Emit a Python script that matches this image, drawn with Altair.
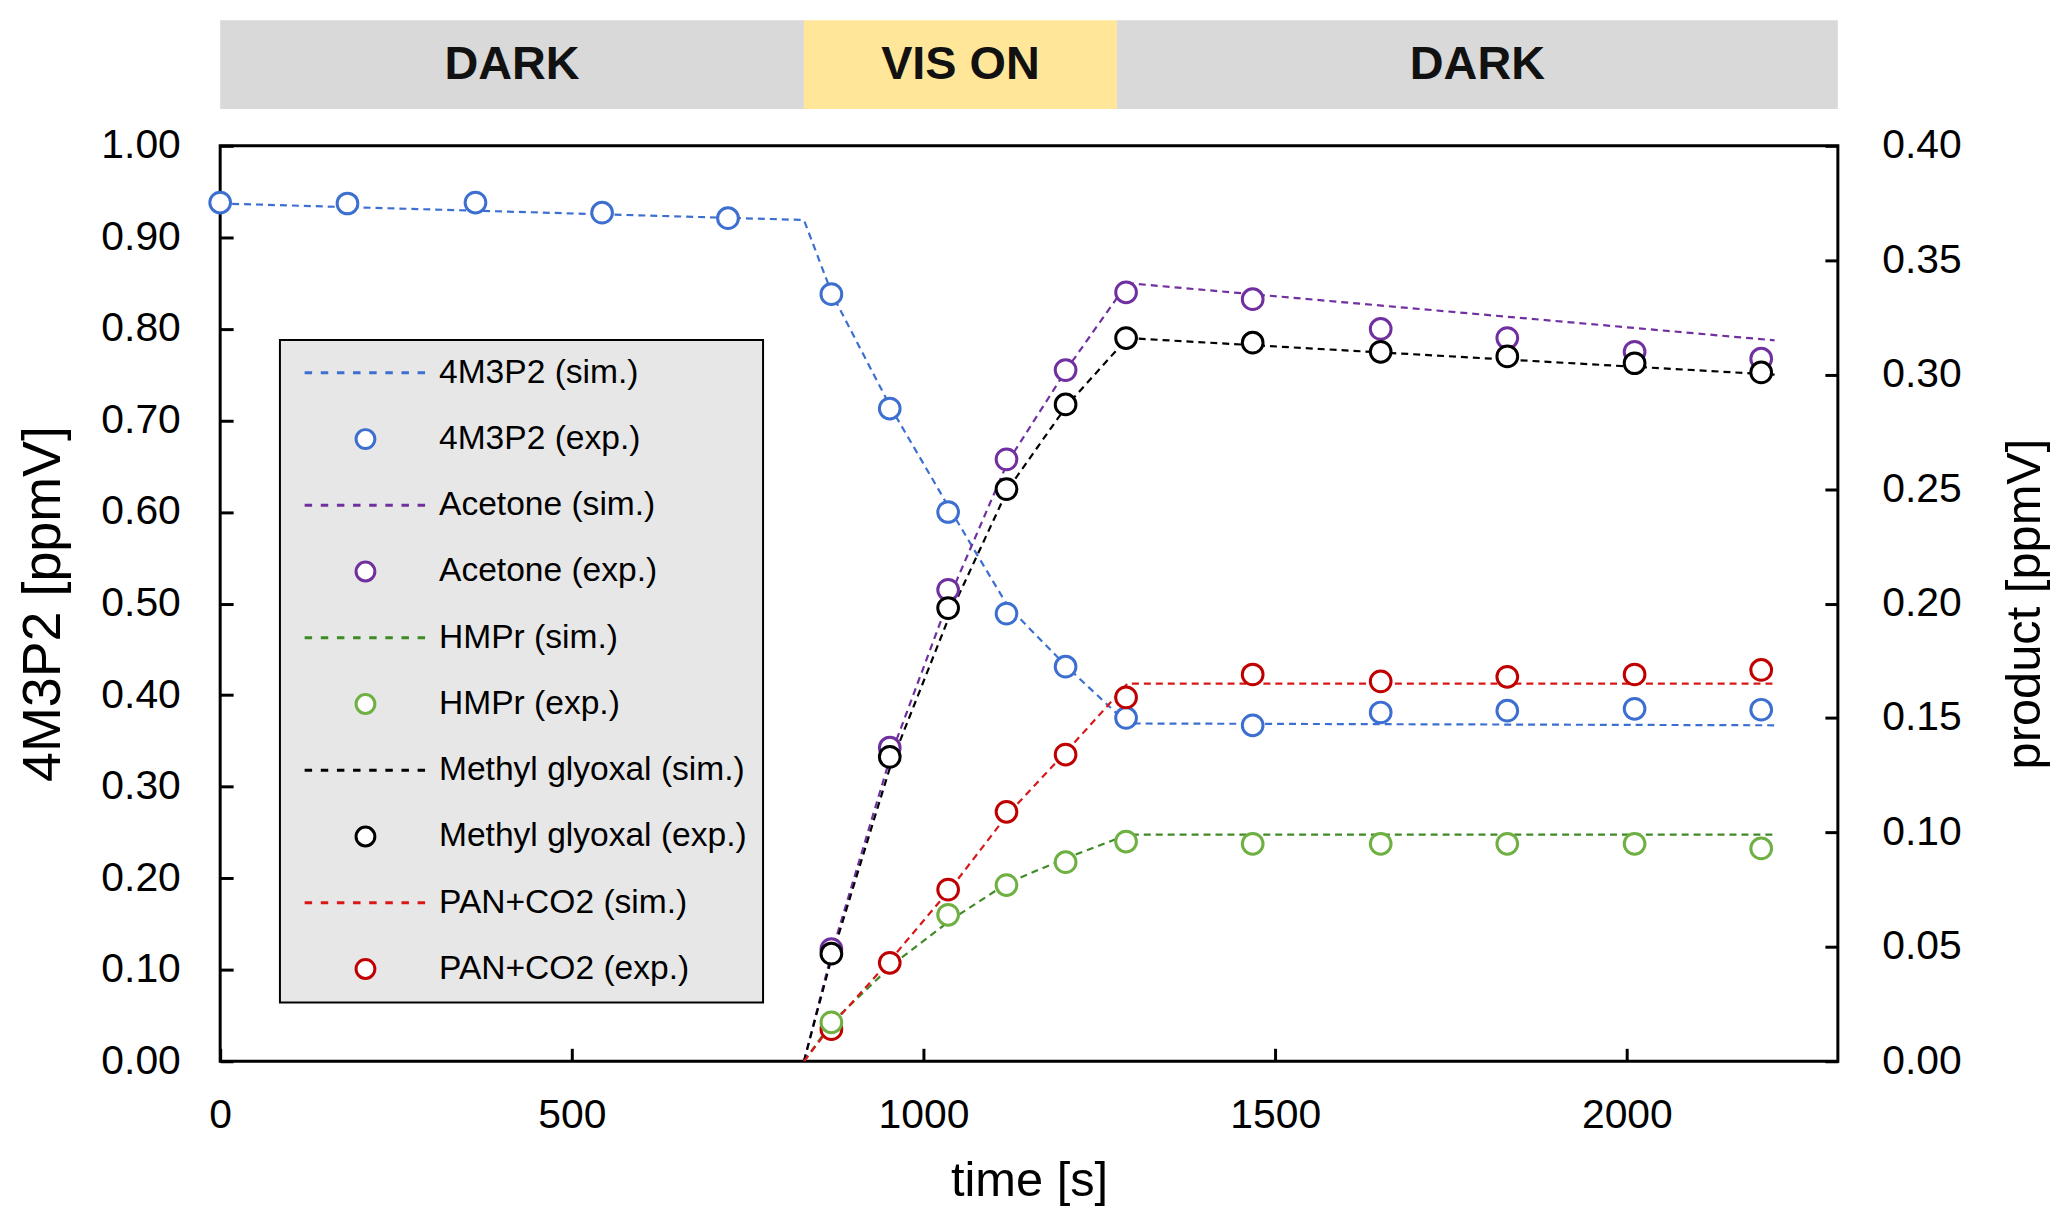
import pandas as pd
import altair as alt

FONT = "Liberation Sans"

# top band: illumination phases
phase_start = [0, 830, 1275]
phase_end = [830, 1275, 2300]
phase_label = ["DARK", "VIS ON", "DARK"]
phase_color = ["#d9d9d9", "#ffe699", "#d9d9d9"]

# simulated curves
t_sim_4m = [0, 830, 870, 955, 1040, 1120, 1205, 1290, 2210]
sim_4m3p2 = [0.937, 0.919, 0.838, 0.712, 0.600, 0.497, 0.430, 0.369, 0.367]
t_sim_p = [830, 870, 955, 1040, 1120, 1205, 1290, 2210]
sim_acetone = [0.0, 0.048, 0.135, 0.205, 0.262, 0.303, 0.340, 0.315]
sim_hmpr = [0.0, 0.017, 0.042, 0.062, 0.078, 0.089, 0.099, 0.099]
sim_mgly = [0.0, 0.046, 0.131, 0.197, 0.250, 0.287, 0.316, 0.300]
sim_pan = [0.0, 0.016, 0.045, 0.076, 0.108, 0.136, 0.165, 0.165]

# experimental points
t_exp_4m = [0, 181, 363, 543, 722, 869, 952, 1035, 1118, 1202, 1288, 1468, 1650, 1830, 2011, 2191]
exp_4m3p2 = [0.938, 0.937, 0.938, 0.927, 0.921, 0.838, 0.713, 0.600, 0.489, 0.431, 0.375, 0.367, 0.381, 0.383, 0.385, 0.384]
t_exp_p = [869, 952, 1035, 1118, 1202, 1288, 1468, 1650, 1830, 2011, 2191]
exp_acetone = [0.049, 0.137, 0.206, 0.263, 0.302, 0.336, 0.333, 0.320, 0.316, 0.310, 0.307]
exp_mgly = [0.047, 0.133, 0.198, 0.250, 0.287, 0.316, 0.314, 0.310, 0.308, 0.305, 0.301]
exp_pan = [0.014, 0.043, 0.075, 0.109, 0.134, 0.159, 0.169, 0.166, 0.168, 0.169, 0.171]
t_exp_hmpr = [869, 1035, 1118, 1202, 1288, 1468, 1650, 1830, 2011, 2191]
exp_hmpr = [0.017, 0.064, 0.077, 0.087, 0.096, 0.095, 0.095, 0.095, 0.095, 0.093]

labels = ["4M3P2 (sim.)", "4M3P2 (exp.)", "Acetone (sim.)", "Acetone (exp.)",
          "HMPr (sim.)", "HMPr (exp.)", "Methyl glyoxal (sim.)", "Methyl glyoxal (exp.)",
          "PAN+CO2 (sim.)", "PAN+CO2 (exp.)"]
colors = ["#3c6fd0", "#3c6fd0", "#7030a0", "#7030a0", "#3f8a26", "#6fb043",
          "#000000", "#000000", "#d81818", "#c00000"]

# legend glyphs: dashed segment for sim, circle for exp
dash = "".join("M%.2f,0H%.2f" % (-4.07 + k * 1.08, -3.57 + k * 1.08) for k in range(8))
circ = "M0.63,0A0.63,0.63,0,1,1,-0.63,0A0.63,0.63,0,1,1,0.63,0Z"
shapes = [dash, circ] * 5


def long_df(times, series):
    rows = []
    for name, vals in series:
        for t, v in zip(times, vals):
            rows.append({"time": t, "value": v, "label": name})
    return pd.DataFrame(rows)


sim4 = long_df(t_sim_4m, [("4M3P2 (sim.)", sim_4m3p2)])
exp4 = long_df(t_exp_4m, [("4M3P2 (exp.)", exp_4m3p2)])
simp = long_df(t_sim_p, [("Acetone (sim.)", sim_acetone), ("HMPr (sim.)", sim_hmpr),
                         ("Methyl glyoxal (sim.)", sim_mgly), ("PAN+CO2 (sim.)", sim_pan)])
expp = pd.concat([
    long_df(t_exp_p, [("Acetone (exp.)", exp_acetone), ("Methyl glyoxal (exp.)", exp_mgly),
                      ("PAN+CO2 (exp.)", exp_pan)]),
    long_df(t_exp_hmpr, [("HMPr (exp.)", exp_hmpr)]),
])
phases = pd.DataFrame({"start": phase_start, "end": phase_end, "label": phase_label,
                       "fill": phase_color})
phases["mid"] = (phases["start"] + phases["end"]) / 2

xscale = alt.Scale(domain=[0, 2300], nice=False, zero=False)
xaxis = alt.Axis(values=[0, 500, 1000, 1500, 2000], format="d", title="time [s]", grid=False,
                 domain=False, offset=-13, tickSize=13, tickWidth=3, tickColor="black",
                 labelPadding=34, labelFontSize=41, labelFont=FONT, labelColor="black",
                 titleFontSize=49, titleFont=FONT, titleFontWeight="normal",
                 titleColor="black", titlePadding=22, labelFlush=False)
color_scale = alt.Scale(domain=labels, range=colors)
shape_scale = alt.Scale(domain=labels, range=shapes)
legend = alt.Legend(title=None, orient="none", legendX=60, legendY=195, symbolSize=900,
                    symbolStrokeWidth=3, symbolFillColor="white", symbolOpacity=1,
                    labelFont=FONT, labelFontSize=33.7, labelColor="black", labelLimit=0,
                    rowPadding=31.5, padding=16, symbolOffset=53, labelOffset=57,
                    fillColor="#e7e7e7", strokeColor="black")

band = alt.Chart(phases).mark_rect().encode(
    x=alt.X("start:Q", scale=xscale, axis=xaxis),
    x2="end:Q",
    y=alt.value(-126),
    y2=alt.value(-37),
    fill=alt.Fill("fill:N", scale=None),
)
band_text = alt.Chart(phases).mark_text(font=FONT, fontSize=47, fontWeight="bold",
                                        color="#111111").encode(
    x=alt.X("mid:Q", scale=xscale),
    y=alt.value(-81),
    text="label:N",
)

yleft = alt.Y("value:Q", scale=alt.Scale(domain=[0, 1], nice=False),
              axis=alt.Axis(orient="left", values=[i / 10 for i in range(11)], format=".2f",
                            title="4M3P2 [ppmV]", grid=False, domain=False, offset=-13,
                            tickSize=13, tickWidth=3, tickColor="black", labelPadding=40,
                            labelFontSize=41, labelFont=FONT, labelColor="black",
                            titleFontSize=54, titleFont=FONT, titleFontWeight="normal",
                            titleColor="black", titlePadding=30))
yright = alt.Y("value:Q", scale=alt.Scale(domain=[0, 0.4], nice=False),
               axis=alt.Axis(orient="right", values=[i / 20 for i in range(9)], format=".2f",
                             title="product [ppmV]", grid=False, domain=False, offset=-13,
                             tickSize=13, tickWidth=3, tickColor="black", labelPadding=44,
                             labelFontSize=41, labelFont=FONT, labelColor="black",
                             titleFontSize=49, titleFont=FONT, titleFontWeight="normal",
                             titleColor="black", titlePadding=40, titleAngle=270,
                             titleBaseline="top"))

line_kw = dict(strokeDash=[7, 5], strokeWidth=2.2, clip=True)
pt_kw = dict(filled=False, fill="white", fillOpacity=1, opacity=1, size=1090, strokeWidth=3)


def col():
    return alt.Color("label:N", scale=color_scale, legend=legend)


def shp():
    return alt.Shape("label:N", scale=shape_scale, legend=legend)


left = alt.layer(
    alt.Chart(sim4).mark_line(**line_kw).encode(
        x=alt.X("time:Q", scale=xscale), y=yleft, color=col()),
    alt.Chart(exp4).mark_point(**pt_kw).encode(
        x=alt.X("time:Q", scale=xscale), y=yleft, color=col(), shape=shp()),
)
right = alt.layer(
    alt.Chart(simp).mark_line(**line_kw).encode(
        x=alt.X("time:Q", scale=xscale), y=yright, color=col()),
    alt.Chart(expp).mark_point(**pt_kw).encode(
        x=alt.X("time:Q", scale=xscale), y=yright, color=col(), shape=shp()),
)

chart = alt.layer(band, band_text, left, right).resolve_scale(
    y="independent"
).properties(
    width=1624, height=919,
    autosize=alt.AutoSizeParams(type="none"),
    padding={"left": 213, "top": 136, "right": 222, "bottom": 160},
    background="white",
).configure_view(
    stroke="black", strokeWidth=3
).configure_legend(
    strokeWidth=2
)

chart.save("out.html", embed_options={"renderer": "svg", "actions": False})
